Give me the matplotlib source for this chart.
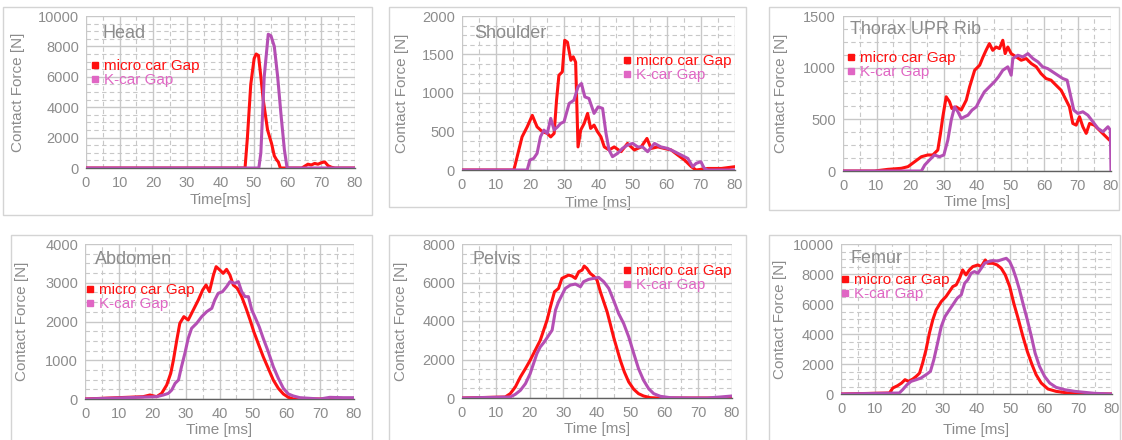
import matplotlib
matplotlib.use('Agg')
import matplotlib.pyplot as plt
from matplotlib.lines import Line2D
from matplotlib.patches import Rectangle
from matplotlib.ticker import MultipleLocator

plt.rcParams['font.family'] = ['Liberation Sans', 'DejaVu Sans']

# ---- data (time in ms, force in N) ----
head_t_micro = [0, 47.3, 48, 49, 50, 50.6, 51.3, 52, 52.7, 54, 55.2, 56, 56.7, 57.2, 57.8,
                64.2, 66, 67, 68, 69, 70, 71, 72, 73, 74, 80]
head_f_micro = [0, 0, 2000, 5500, 7200, 7500, 7400, 6000, 4500, 2500, 1600, 800, 530, 400, 0,
                0, 250, 200, 300, 250, 350, 400, 150, 50, 0, 0]
head_t_k = [0, 51.4, 52, 53, 54.2, 55, 56, 57, 58, 59, 59.8, 80]
head_f_k = [0, 0, 1000, 6000, 8800, 8700, 8000, 6000, 3500, 1200, 0, 0]

sh_t_micro = [0, 15.2, 17.6, 19.1, 20.6, 22, 23.5, 25, 26, 27, 27.7, 28.4, 29.4, 30.1, 30.9,
              31.9, 32.6, 33.3, 34, 34.8, 35.8, 36.8, 37.7, 38.7, 39.7, 40.7, 41.7, 43.1, 44.6,
              46.6, 48.5, 50.5, 52.5, 54.2, 55.4, 57.4, 59.3, 61.3, 63.2, 65.2, 67.2, 68.6, 72,
              76, 80]
sh_f_micro = [0, 0, 430, 560, 710, 560, 500, 475, 430, 475, 905, 1230, 1275, 1685, 1660,
              1425, 1470, 1400, 300, 520, 605, 735, 540, 583, 497, 432, 300, 260, 300,
              238, 345, 260, 300, 410, 280, 300, 280, 260, 195, 130, 43, 0, 20,
              20, 43]
sh_t_k = [0, 19.1, 19.9, 21, 22, 23, 24, 25, 26, 27, 28, 28.9, 29.9, 31.4, 32.8, 34, 35, 36,
          37.2, 38.7, 39.9, 41.2, 42.2, 43.1, 44.1, 45.6, 47, 48.5, 50, 51.5, 52.9, 54.4, 56.4,
          58.3, 60.3, 62.3, 64.2, 66.2, 67.6, 68.6, 70, 71, 72, 80]
sh_f_k = [0, 0, 130, 150, 216, 432, 518, 475, 670, 520, 560, 605, 626, 864, 907, 1080, 1123, 950,
          929, 735, 820, 800, 475, 260, 173, 216, 280, 324, 345, 300, 300, 238, 345,
          300, 280, 238, 195, 150, 43, 86, 108, 20, 0, 0]

th_t_micro = [0, 9.4, 13.4, 17.4, 19.4, 21.4, 23.4, 25.3, 26.8, 28.3, 29.1, 29.8, 30.8, 31.8,
              32.5, 33.8, 35.3, 36.8, 37.8, 39.3, 40.8, 41.8, 42.7, 43.7, 44.7, 45.7, 46.7, 47.7,
              48.4, 49.2, 50.2, 51.7, 53.2, 54.7, 56.2, 57.7, 59.1, 60.6, 62.1, 63.6, 65.1, 66.6,
              67.6, 68.6, 69.6, 70.6, 71.6, 72.6, 73.6, 75, 76.5, 78, 79.5, 80]
th_f_micro = [0, 0, 16, 26, 42, 90, 138, 155, 155, 203, 364, 525, 718, 670,
              605, 620, 590, 686, 815, 975, 1024, 1104, 1168, 1233, 1168, 1200, 1185, 1265,
              1136, 1200, 1136, 1104, 1072, 1088, 1040, 1008, 943, 895, 879, 830, 782, 686,
              621, 460, 444, 525, 428, 364, 460, 444, 396, 348, 300, 290]
th_t_k = [0, 23.4, 24.4, 25.8, 27.3, 28.8, 30.1, 31.3, 32.3, 33.3, 34.3, 35.3, 36.3, 37.3, 38.5,
          39.8, 40.8, 42.2, 43.7, 45.2, 46.4, 47.7, 49.2, 50.2, 50.7, 52.2, 53.7, 55.2, 56.7,
          58.2, 59.6, 61.1, 62.6, 64.1, 65.6, 66.9, 67.9, 68.9, 70.1, 71.6, 73.1, 74.6, 76.1,
          77.6, 79.1, 79.8, 80]
th_f_k = [0, 0, 58, 106, 155, 138, 155, 300, 492, 621, 573, 508, 525, 540, 589,
          621, 686, 766, 815, 863, 911, 975, 1008, 927, 1088, 1120, 1104, 1136, 1088,
          1056, 1008, 991, 959, 927, 895, 879, 734, 589, 557, 573, 540, 476, 412,
          380, 428, 396, 0]

ab_t_micro = [0, 17.3, 19.3, 21.3, 22.8, 24.3, 25.5, 26.3, 27.3, 28.2, 29.4, 30.7, 32.2, 33.7,
              35, 36, 37, 38.2, 39, 40.1, 41.1, 42.1, 43.1, 44.1, 45.3, 46.6, 47.9, 49.1, 50.2,
              51.5, 53, 54.5, 56, 57.5, 59, 60.5, 62, 80]
ab_f_micro = [0, 60, 103, 60, 146, 361, 662, 1006, 1523, 1953, 2125, 2039, 2297, 2555,
              2813, 2942, 2770, 3200, 3415, 3329, 3243, 3346, 3200, 2942, 2856, 2641, 2340, 2039, 1738,
              1436, 1092, 791, 490, 275, 129, 43, 0, 0]
ab_t_k = [0, 21.3, 23.3, 24.8, 25.8, 26.8, 27.8, 28.7, 29.7, 30.7, 31.7, 33.2, 34.7, 36.2, 37.7,
          38.6, 39.6, 40.9, 42.1, 43.1, 44.6, 45.6, 46.6, 47.6, 48.6, 49.6, 50.5, 51.8, 53,
          54.5, 56, 57.5, 59, 60.5, 62, 63.9, 66.9, 69.9, 72.8, 76.8, 80]
ab_f_k = [0, 60, 103, 146, 232, 404, 490, 834, 1178, 1566, 1824, 1953, 2125, 2254, 2340,
          2555, 2727, 2770, 2899, 3028, 2985, 3028, 2770, 2641, 2641, 2297, 2125, 1867, 1566,
          1221, 834, 533, 275, 129, 77, 34, 17, 0, 43, 34, 34]

pe_t_micro = [0, 12.8, 14.3, 15.8, 17.3, 18.8, 20.2, 21.7, 23.2, 24.2, 25.2, 26.2, 27.4, 28.6,
              29.6, 30.6, 31.6, 32.6, 33.6, 34.6, 35.6, 36.2, 37, 38, 39, 40, 41, 42, 43, 43.9,
              44.9, 45.9, 46.9, 48.1, 49.4, 50.9, 52.3, 53.8, 55.8, 57.8, 80]
pe_f_micro = [0, 52, 226, 573, 1093, 1527, 1961, 2482, 3002, 3523, 4043, 4738, 5518, 5692,
              6213, 6300, 6386, 6334, 6213, 6560, 6646, 6855, 6733, 6473, 6334, 6126, 5518, 4998, 4477, 3870,
              3176, 2568, 1961, 1354, 833, 451, 226, 104, 17, 0, 0]
pe_t_k = [0, 14.3, 15.8, 17.3, 18.8, 20.2, 21.2, 22.2, 23.2, 24.4, 25.7, 26.7, 27.7, 28.6, 29.6,
          30.6, 32.1, 33.6, 35.1, 36, 37.5, 39, 40.5, 42, 43.5, 44.9, 46.4, 47.9, 49.4, 50.9,
          52.3, 53.8, 55.3, 56.8, 58.8, 61.7, 67.7, 72.6, 76.5, 80]
pe_f_k = [0, 52, 191, 399, 746, 1267, 1787, 2308, 2655, 2915, 3262, 3523, 4564, 4998, 5345,
          5692, 5866, 5918, 5779, 6039, 6161, 6213, 6265, 6039, 5692, 5085, 4390, 3870, 3176, 2308,
          1527, 920, 486, 226, 87, 17, 0, 0, 52, 104]

fe_t_micro = [0, 14.3, 15.3, 16.7, 17.9, 18.9, 19.9, 21.2, 22.2, 23.2, 24.1, 25.1, 26.1, 27.1,
              28.1, 29.6, 31, 32, 33, 34, 35, 35.9, 36.9, 37.9, 38.9, 40.4, 41.4, 42.6, 43.3,
              44.8, 46.1, 47.3, 48.5, 49.8, 51, 52.4, 53.7, 55, 56.4, 57.6, 59.1, 61.1, 63.5,
              67, 70.9, 80]
fe_f_micro = [0, 67, 399, 554, 732, 953, 843, 998, 1175, 1397, 2062, 2949, 4058, 4945,
              5610, 6164, 6497, 6829, 7162, 7273, 7716, 8271, 7938, 8271, 8492, 8603, 8492, 8936, 8714,
              8714, 8603, 8381, 7938, 7162, 6053, 4945, 3836, 2838, 1951, 1286, 732, 333, 177,
              67, 22, 0]
fe_t_k = [0, 17.2, 18.2, 19.5, 20.7, 22.2, 23.6, 25.1, 26.4, 27.4, 28.4, 29.6, 30.7, 32, 33,
          34.3, 35.5, 36.5, 37.4, 38.4, 39.4, 40.4, 41.4, 42.4, 43.5, 44.8, 46.3, 47.8, 48.8,
          49.8, 50.7, 51.7, 52.7, 53.7, 55, 56.2, 57.3, 58.6, 60.1, 61.6, 63.5, 66, 69, 71.9,
          74.9, 80]
fe_f_k = [0, 67, 288, 621, 843, 953, 1064, 1286, 1508, 2284, 3282, 4501, 5166, 5610, 5942,
          6386, 6608, 7384, 7605, 8049, 8160, 8049, 8381, 8714, 8825, 8891, 8869, 8980, 9047,
          8825, 8381, 7716, 6940, 6053, 4945, 3836, 2727, 1840, 1175, 732, 443, 288, 177, 111,
          44, 0]

titles = ['Head', 'Shoulder', 'Thorax UPR Rib', 'Abdomen', 'Pelvis', 'Femur']
ymax = [10000, 2000, 1500, 4000, 8000, 10000]
ystep = [2000, 500, 500, 1000, 2000, 2000]
xlabels = ['Time[ms]', 'Time [ms]', 'Time [ms]', 'Time [ms]', 'Time [ms]', 'Time [ms]']
series = [(head_t_micro, head_f_micro, head_t_k, head_f_k),
          (sh_t_micro, sh_f_micro, sh_t_k, sh_f_k),
          (th_t_micro, th_f_micro, th_t_k, th_f_k),
          (ab_t_micro, ab_f_micro, ab_t_k, ab_f_k),
          (pe_t_micro, pe_f_micro, pe_t_k, pe_f_k),
          (fe_t_micro, fe_f_micro, fe_t_k, fe_f_k)]
legend_labels = ['micro car Gap', 'K-car Gap']

# ---- layout (pixel positions in the 1122x440 picture) ----
W, H = 1122, 440
plot_px = [(86, 355, 16, 168), (462, 735, 16, 170), (843, 1111, 16, 171),
           (85, 354, 244, 399), (462, 732, 244, 398), (841, 1112, 244, 394)]
box_px = [(3, 372, 7, 215), (389, 746, 7, 207), (769, 1119, 7, 210),
          (11, 372, 235, 445), (389, 746, 235, 445), (769, 1120, 235, 445)]
ylab_x = [18, 402, 781, 22, 401, 780]
xlab_y = [200, 203, 202, 430, 429, 430]
title_px = [(103, 33), (474, 33), (850, 30), (95, 260), (472, 260), (851, 258)]
leg_px = [(90, 59), (622, 54), (846, 51), (85, 283), (622, 264), (840, 273)]

RED = '#ff1010'
PURPLE = '#b44fb4'
PINK = '#e066c4'
GRAY = '#8c8c8c'

fig = plt.figure(figsize=(W / 100, H / 100), dpi=100)

for i in range(6):
    x0, x1, yt, yz = box_px[i]
    fig.add_artist(Rectangle((x0 / W, 1 - yz / H), (x1 - x0) / W, (yz - yt) / H,
                             transform=fig.transFigure, fill=False, edgecolor='#d4d4d4', lw=1))

    px0, px1, pyt, pyz = plot_px[i]
    ax = fig.add_axes([px0 / W, 1 - pyz / H, (px1 - px0) / W, (pyz - pyt) / H])
    tm, fm, tk, fk = series[i]
    ax.plot(tm, fm, color=RED, lw=2.2, zorder=3)
    ax.plot(tk, fk, color=PURPLE, lw=2.2, zorder=4)

    ax.set_xlim(0, 80)
    ax.set_ylim(0, ymax[i])
    ax.xaxis.set_major_locator(MultipleLocator(10))
    ax.xaxis.set_minor_locator(MultipleLocator(5))
    ax.yaxis.set_major_locator(MultipleLocator(ystep[i]))
    ax.yaxis.set_minor_locator(MultipleLocator(ystep[i] / 4))
    ax.grid(which='major', color='#c8c8c8', lw=1)
    ax.grid(which='minor', color='#c8c8c8', lw=0.8, ls=(0, (4, 3)))
    ax.set_axisbelow(True)
    for s in ['left', 'right', 'top']:
        ax.spines[s].set_visible(False)
    ax.spines['bottom'].set_color('#606060')
    ax.spines['bottom'].set_linewidth(1)
    ax.tick_params(which='both', length=0, labelsize=10.5, labelcolor=GRAY)
    ax.tick_params(axis='x', pad=6)
    ax.tick_params(axis='y', pad=5)

    ax.set_ylabel('Contact Force [N]', fontsize=11, color=GRAY)
    ax.yaxis.set_label_coords((ylab_x[i] - px0) / (px1 - px0), 0.5)
    ax.yaxis.label.set_va('center')
    ax.set_xlabel(xlabels[i], fontsize=11, color=GRAY)
    ax.xaxis.set_label_coords(0.5, -(xlab_y[i] - pyz) / (pyz - pyt))
    ax.xaxis.label.set_va('center')

    tx, ty = title_px[i]
    ax.text((tx - px0) / (px1 - px0), (pyz - ty) / (pyz - pyt), titles[i],
            transform=ax.transAxes, fontsize=13, color=GRAY, ha='left', va='center', zorder=5)

    handles = [Line2D([], [], marker='s', ls='none', color=RED, markersize=5),
               Line2D([], [], marker='s', ls='none', color=PINK, markersize=5)]
    lx, ly = leg_px[i]
    leg = ax.legend(handles, legend_labels, loc='upper left',
                    bbox_to_anchor=(lx / W, 1 - ly / H), bbox_transform=fig.transFigure,
                    frameon=False, fontsize=11, handlelength=0.6, handletextpad=0.3,
                    labelspacing=0.0, borderpad=0, borderaxespad=0)
    leg.get_texts()[0].set_color(RED)
    leg.get_texts()[1].set_color(PINK)
    leg.set_zorder(6)

fig.savefig('out.png', dpi=100)
